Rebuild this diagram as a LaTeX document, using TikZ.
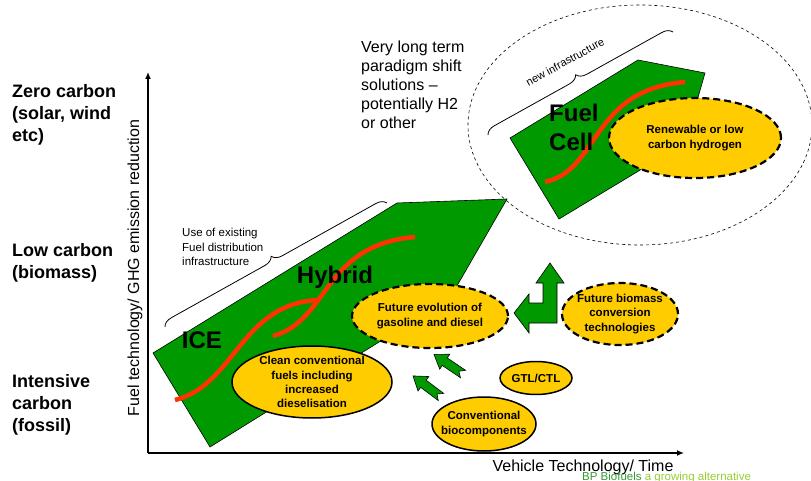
\documentclass[tikz,border=0pt]{standalone}
\usepackage{fontspec}
\setmainfont{Liberation Sans}
\usetikzlibrary{arrows.meta,shapes.geometric,decorations.pathreplacing}
\usepackage{xcolor}
\definecolor{techgreen}{HTML}{009900}
\definecolor{fuelyellow}{HTML}{FFCC00}
\definecolor{pathred}{HTML}{FF3300}
\definecolor{bpgreen}{HTML}{339933}
\definecolor{bplight}{HTML}{99CC33}
\tikzset{
  fuelbox/.style={ellipse, draw=black, line width=1.5pt, fill=fuelyellow, align=center, inner xsep=-8pt, inner ysep=-4pt, font=\bfseries\fontsize{11.5}{14.2}\selectfont},
  futurebox/.style={fuelbox, line width=2.2pt, dash pattern=on 7pt off 4pt},
  techarea/.style={draw=black, line width=0.6pt, fill=techgreen},
  techcurve/.style={draw=pathred, line width=4.5pt},
  techlabel/.style={font=\bfseries\fontsize{24}{29}\selectfont, align=left, inner sep=0pt},
  carbonlabel/.style={font=\bfseries\fontsize{18}{22}\selectfont, align=left, anchor=west, inner sep=0pt},
  notelabel/.style={font=\fontsize{11.5}{14.3}\selectfont, align=left, inner sep=0pt},
  axis/.style={line width=1.3pt, -{Latex[length=7pt,width=6pt]}},
  infrabrace/.style={decorate, decoration={brace, amplitude=10pt}, line width=0.8pt},
  notcharrow/.pic={\filldraw[fill=techgreen, draw=black, line width=0.6pt]
    (0,4.5) -- (22,4.5) -- (22,9) -- (35,0) -- (22,-9) -- (22,-4.5) -- (0,-4.5) -- (5,0) -- cycle;}
}

\begin{document}
\begin{tikzpicture}[x=1pt, y=-1pt]
  \useasboundingbox (0,0) rectangle (811,481);
  \clip (0,0) rectangle (811,481);

  % long term zone
  \draw[dashed, line width=0.6pt] (640,125) ellipse [x radius=172, y radius=120];

  % axes
  \coordinate (origin) at (148,453);
  \coordinate (ytip) at (148,72);
  \coordinate (xtip) at (684,453);
  \draw[axis] (origin) -- (ytip);
  \draw[axis] (origin) -- (xtip);
  \node[font=\fontsize{16}{19}\selectfont, rotate=90] (ylabel) at (135,268) {Fuel technology/ GHG emission reduction};
  \node[font=\fontsize{16}{19}\selectfont] (xlabel) at (583,467) {Vehicle Technology/ Time};

  % carbon levels
  \node[carbonlabel] (zero) at (12,115) {Zero carbon\\(solar, wind\\etc)};
  \node[carbonlabel] (low) at (12,263) {Low carbon\\(biomass)};
  \node[carbonlabel] (intensive) at (12,405) {Intensive\\carbon\\(fossil)};

  % technology areas
  \fill[techarea] (153,353) -- (397,203) -- (507,199) -- (450,298) -- (210,447) -- cycle;
  \fill[techarea] (510,138) -- (638,60) -- (705,73) -- (685,143) -- (559,219) -- cycle;
  \draw[techcurve] (175,400) .. controls (235,385) and (240,305) .. (317,300);
  \draw[techcurve] (273,336) .. controls (330,320) and (322,245) .. (415,237);
  \draw[techcurve] (545,182) .. controls (600,170) and (590,90) .. (685,82);

  \draw[infrabrace] (165,327) -- (387,203);
  \draw[infrabrace] (488,135) -- (673,32);
  \node[notelabel, anchor=west] (existing) at (182,247) {Use of existing\\Fuel distribution\\infrastructure};
  \node[font=\fontsize{11}{13}\selectfont, rotate=29, inner sep=0pt] (newinfra) at (565,62) {new infrastructure};
  \node[font=\fontsize{16}{19}\selectfont, align=left, anchor=west, inner sep=0pt] (paradigm) at (361,85) {Very long term\\paradigm shift\\solutions --\\potentially H2\\or other};

  \node[techlabel] (ice) at (202,340) {ICE};
  \node[techlabel] (hybrid) at (335,277) {Hybrid};
  \node[techlabel, anchor=west] (fuelcell) at (549,127) {Fuel\\Cell};

  % fuels
  \node[fuelbox, minimum width=160pt, minimum height=72pt] (clean) at (312,382) {Clean conventional\\fuels including\\increased\\dieselisation};
  \node[futurebox, minimum width=156pt, minimum height=64pt] (evolution) at (430,316) {Future evolution of\\gasoline and diesel};
  \node[futurebox, minimum width=116pt, minimum height=62pt] (biomass) at (620,314) {Future biomass\\conversion\\technologies};
  \node[fuelbox, minimum width=72pt, minimum height=33pt] (gtl) at (536,378) {GTL/CTL};
  \node[fuelbox, minimum width=104pt, minimum height=54pt] (biocomp) at (484,424) {Conventional\\biocomponents};
  \node[futurebox, minimum width=172pt, minimum height=80pt] (hydrogen) at (695,138) {Renewable or low\\carbon hydrogen};

  % block arrows
  \pic[rotate=143] at (441,397) {notcharrow};
  \pic[rotate=146] at (463,374) {notcharrow};
  \filldraw[fill=techgreen, draw=black, line width=0.6pt] (550,263) -- (564,283) -- (557,283) -- (557,323) -- (529,323) -- (529,333) -- (514,313) -- (529,294) -- (529,303) -- (543,303) -- (543,283) -- (536,283) -- cycle;

  \node[font=\fontsize{11.5}{13}\selectfont, anchor=base west, inner sep=0pt] (footer) at (582,480) {\textcolor{bpgreen}{BP Biofuels} \textcolor{bplight}{a growing alternative}};
\end{tikzpicture}
\end{document}
